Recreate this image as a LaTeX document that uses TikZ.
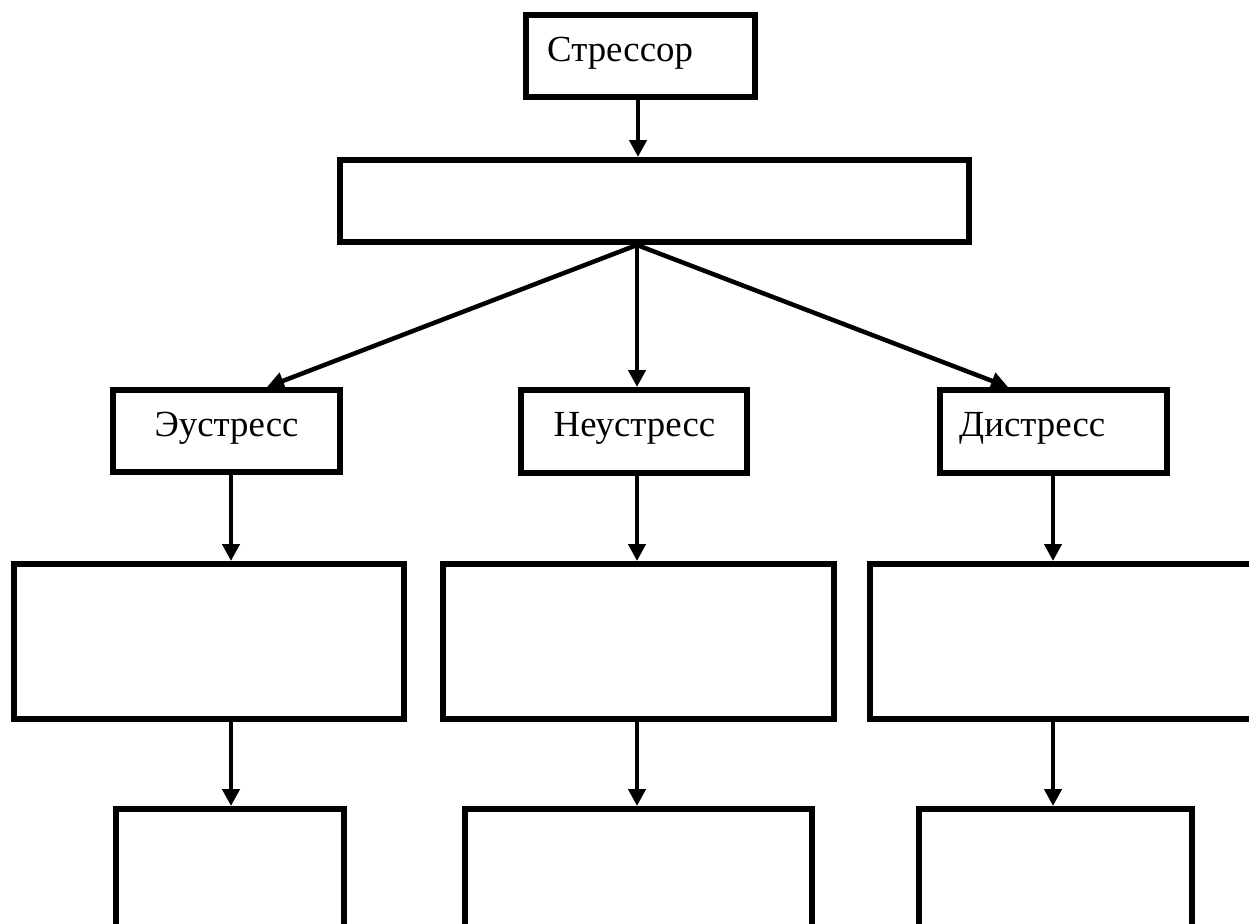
\documentclass[tikz,border=0pt]{standalone}
\usepackage{fontspec}
\setmainfont{Liberation Serif}
\usetikzlibrary{arrows.meta}
\begin{document}
\begin{tikzpicture}[x=1pt,y=-1pt,
  box/.style={draw=black, line width=6pt, rectangle, inner sep=0pt, fill=white},
  arr/.style={draw=black, line width=4.5pt, -{Triangle[length=17pt,width=17pt]}},
  lbl/.style={inner sep=0pt, font=\fontsize{36.8}{44}\selectfont}]
\useasboundingbox (0,0) rectangle (1249,923);
\clip (0,0) rectangle (1249,923);
% boxes
\node[box, minimum width=229pt, minimum height=82pt] (s) at (640.5,56) {};
\node[box, minimum width=629pt, minimum height=82pt] (w) at (654.5,201) {};
\node[box, minimum width=227pt, minimum height=82pt] (e) at (226.5,431) {};
\node[box, minimum width=226pt, minimum height=83pt] (n) at (634,431.5) {};
\node[box, minimum width=227pt, minimum height=83pt] (d) at (1053.5,431.5) {};
\node[box, minimum width=390pt, minimum height=155pt] (ra) at (209,641.5) {};
\node[box, minimum width=391pt, minimum height=155pt] (rb) at (638.5,641.5) {};
\node[box, minimum width=397pt, minimum height=155pt] (rc) at (1068,641.5) {};
\node[box, minimum width=228pt, minimum height=160pt] (qa) at (230,889) {};
\node[box, minimum width=347pt, minimum height=160pt] (qb) at (638.5,889) {};
\node[box, minimum width=273pt, minimum height=160pt] (qc) at (1055.5,889) {};
% labels
\node[lbl, anchor=base west] (ts) at (547,62) {Стрессор};
\node[lbl, anchor=base] (te) at (226.5,436) {Эустресс};
\node[lbl, anchor=base] (tn) at (634.5,436) {Неустресс};
\node[lbl, anchor=base west] (td) at (959,436) {Дистресс};
% connectors
\coordinate (hub) at ([xshift=-17.5pt]w.south);
\draw[arr] ([xshift=-2.5pt]s.south) -- ([xshift=-2.5pt]s.south |- w.north);
\draw[arr] (hub) -- ([xshift=40.5pt]e.north);
\draw[arr] (hub) -- (hub |- n.north);
\draw[arr] (hub) -- ([xshift=-45.5pt]d.north);
\draw[arr] ([xshift=4.5pt]e.south) -- ([xshift=4.5pt]e.south |- ra.north);
\draw[arr] ([xshift=3pt]n.south) -- ([xshift=3pt]n.south |- rb.north);
\draw[arr] ([xshift=-0.5pt]d.south) -- ([xshift=-0.5pt]d.south |- rc.north);
\draw[arr] ([xshift=1pt]qa.north |- ra.south) -- ([xshift=1pt]qa.north);
\draw[arr] ([xshift=-1.5pt]qb.north |- rb.south) -- ([xshift=-1.5pt]qb.north);
\draw[arr] ([xshift=-2.5pt]qc.north |- rc.south) -- ([xshift=-2.5pt]qc.north);
\end{tikzpicture}
\end{document}
